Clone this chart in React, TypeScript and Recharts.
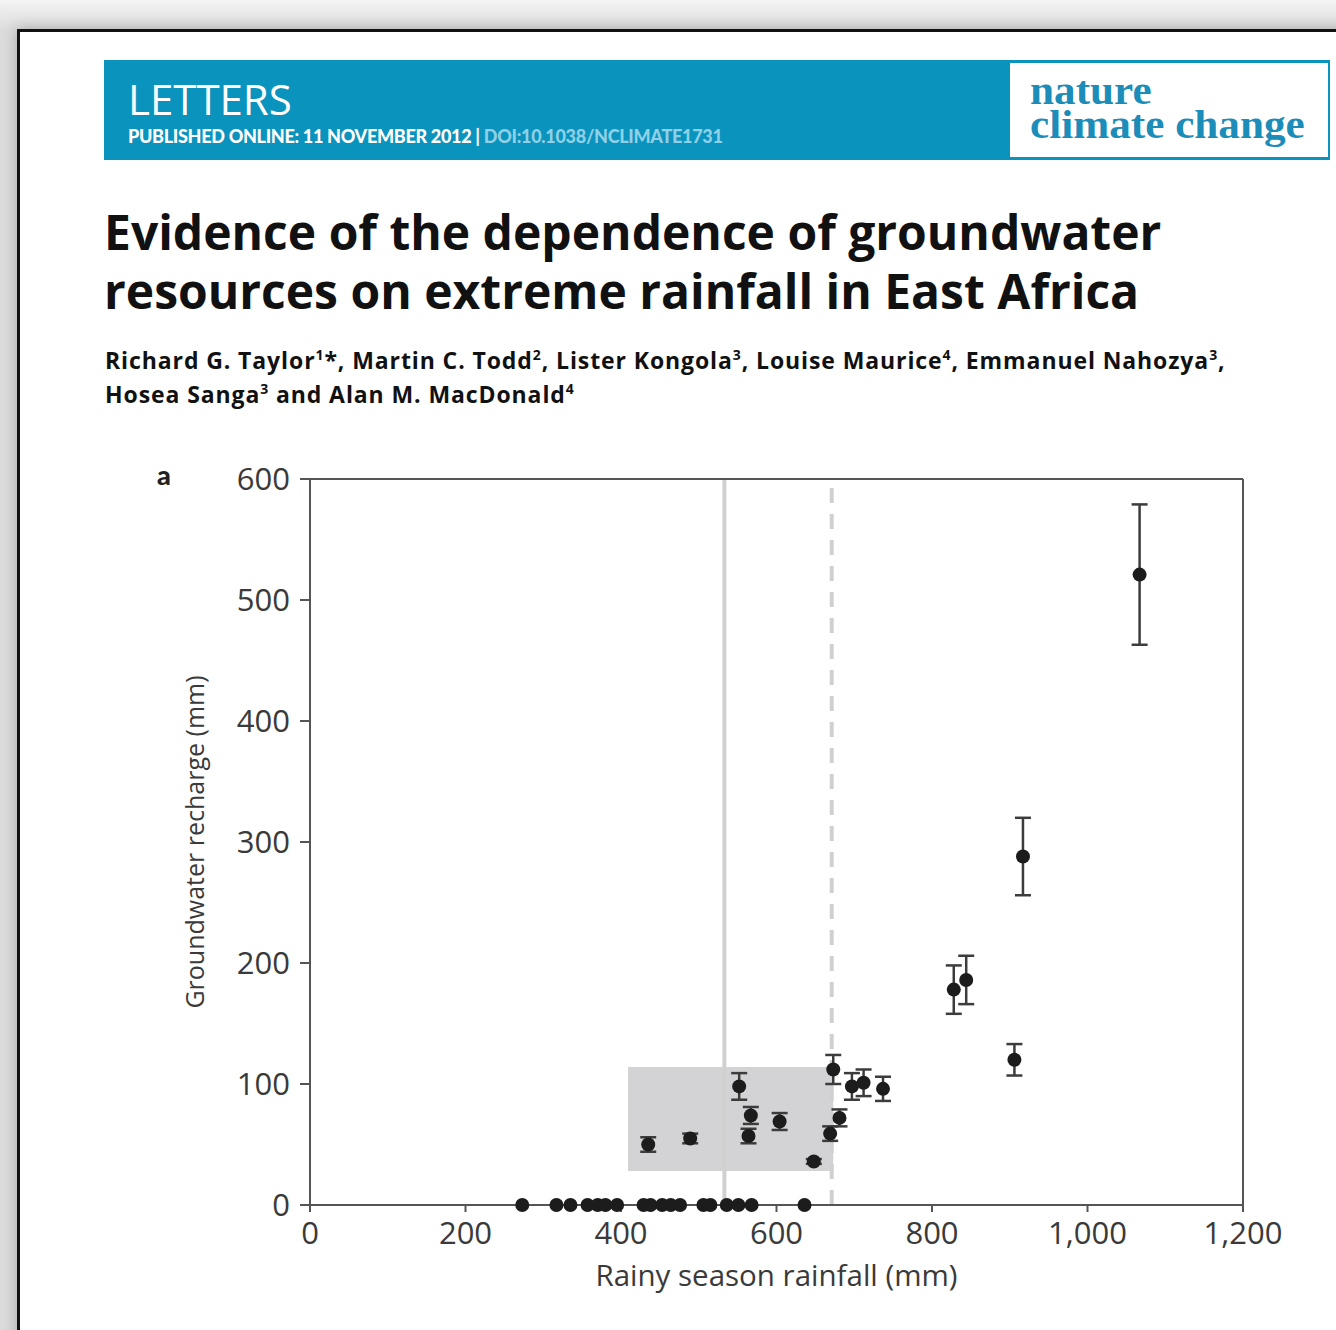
import React from 'react';
import {
  ScatterChart,
  Scatter,
  XAxis,
  YAxis,
  ErrorBar,
  ReferenceArea,
  ReferenceLine,
} from 'recharts';

// Rainy season rainfall (mm) for seasons with no recharge
const zeroRain = [273, 317, 335, 357, 370, 380, 395, 429, 438, 453, 464, 476, 506, 515, 536, 551, 568, 636];
// Seasons with recharge: rainfall (mm), recharge (mm), error (± mm)
const rechargeRain = [435, 489, 552, 567, 564, 604, 648, 673, 669, 681, 697, 712, 737, 828, 844, 906, 917, 1067];
const recharge = [50, 55, 98, 74, 57, 69, 36, 112, 59, 72, 98, 101, 96, 178, 186, 120, 288, 521];
const rechargeErr = [6, 4, 11, 7, 6, 7, 2, 12, 6, 7, 11, 11, 10, 20, 20, 13, 32, 58];

const xTicks = [0, 200, 400, 600, 800, 1000, 1200];
const yTicks = [0, 100, 200, 300, 400, 500, 600];

// shaded range + thresholds (mm)
const boxRain = [409, 673];
const boxRecharge = [28, 114];
const meanRain = 533;
const thresholdRain = 671;

const zeroData = zeroRain.map((rain) => ({ rain, recharge: 0 }));
const rechargeData = rechargeRain.map((rain, i) => ({
  rain,
  recharge: recharge[i],
  err: rechargeErr[i],
}));

const AXIS = '#555';
const TICK = { fill: '#3a3a3a', fontSize: 31, fontFamily: 'Open Sans' };
const SUP = { fontSize: 14, lineHeight: 0, verticalAlign: 'super' } as const;

const dot = (p: any) => <circle cx={p.cx} cy={p.cy} r={7} fill="#1c1c1c" />;

function Header() {
  const logoLine = {
    position: 'absolute',
    left: 20,
    lineHeight: '32px',
    transform: 'scaleX(1.08)',
    transformOrigin: 'left',
  } as const;
  return (
    <>
      <div
        style={{
          position: 'absolute',
          left: 104,
          top: 60,
          width: 1226,
          height: 100,
          background: '#0a93bd',
        }}
      >
        <div
          style={{
            position: 'absolute',
            left: 24,
            top: 14,
            color: '#fff',
            fontFamily: 'Open Sans',
            fontSize: 42,
            lineHeight: '50px',
          }}
        >
          LETTERS
        </div>
        <div
          style={{
            position: 'absolute',
            left: 24,
            top: 65,
            fontFamily: 'Lato',
            fontWeight: 900,
            fontSize: 18,
            letterSpacing: -0.3,
            color: '#fff',
            whiteSpace: 'nowrap',
          }}
        >
          PUBLISHED ONLINE: 11 NOVEMBER 2012 |{' '}
          <span style={{ color: '#8fd0e6' }}>DOI:10.1038/NCLIMATE1731</span>
        </div>
        <div
          style={{
            position: 'absolute',
            left: 906,
            top: 3,
            width: 318,
            height: 94,
            background: '#fff',
            fontFamily: 'Liberation Serif',
            fontWeight: 700,
            fontSize: 40,
            color: '#1b8db8',
            whiteSpace: 'nowrap',
          }}
        >
          <div style={{ ...logoLine, top: 12 }}>nature</div>
          <div style={{ ...logoLine, top: 46 }}>climate change</div>
        </div>
      </div>
      <div
        style={{
          position: 'absolute',
          left: 104,
          top: 202,
          fontFamily: 'Open Sans',
          fontWeight: 700,
          fontSize: 48,
          lineHeight: '59px',
          color: '#111',
          whiteSpace: 'nowrap',
        }}
      >
        Evidence of the dependence of groundwater
        <br />
        resources on extreme rainfall in East Africa
      </div>
      <div
        style={{
          position: 'absolute',
          left: 105,
          top: 343,
          fontFamily: 'Open Sans',
          fontWeight: 700,
          fontSize: 23,
          lineHeight: '34px',
          letterSpacing: 0.9,
          color: '#111',
          whiteSpace: 'nowrap',
        }}
      >
        Richard G. Taylor<sup style={SUP}>1</sup>*, Martin C. Todd<sup style={SUP}>2</sup>, Lister Kongola
        <sup style={SUP}>3</sup>, Louise Maurice<sup style={SUP}>4</sup>, Emmanuel Nahozya<sup style={SUP}>3</sup>,
        <br />
        Hosea Sanga<sup style={SUP}>3</sup> and Alan M. MacDonald<sup style={SUP}>4</sup>
      </div>
      <div
        style={{
          position: 'absolute',
          left: 157,
          top: 458,
          fontFamily: 'Lato',
          fontWeight: 900,
          fontSize: 27,
          color: '#222',
        }}
      >
        a
      </div>
    </>
  );
}

export default function App() {
  return (
    <div
      style={{
        position: 'absolute',
        left: 0,
        top: 0,
        width: 1336,
        height: 1330,
        overflow: 'hidden',
        background: 'linear-gradient(#f4f4f4, #dcdcdc 30px)',
      }}
    >
      <div
        style={{
          position: 'absolute',
          left: 17,
          top: 29,
          width: 1340,
          height: 1320,
          background: '#fff',
          borderLeft: '3px solid #111',
          borderTop: '3px solid #111',
          boxShadow: '0 0 14px rgba(0,0,0,0.25)',
        }}
      />
      <Header />
      <div style={{ position: 'absolute', left: 100, top: 440 }}>
        <ScatterChart width={1236} height={890} margin={{ top: 39, right: 93, left: 0, bottom: 0 }}>
          <XAxis
            type="number"
            dataKey="rain"
            domain={[0, 1200]}
            ticks={xTicks}
            tickFormatter={(v: number) => v.toLocaleString('en-US')}
            tickSize={7}
            tickMargin={10}
            height={125}
            stroke={AXIS}
            strokeWidth={2}
            tick={TICK}
            label={({ viewBox }: any) => (
              <text
                x={viewBox.x + viewBox.width / 2}
                y={viewBox.y + 69}
                textAnchor="middle"
                dominantBaseline="central"
                fill="#3a3a3a"
                fontSize={29.5}
                fontFamily="Open Sans"
              >
                Rainy season rainfall (mm)
              </text>
            )}
          />
          <YAxis
            type="number"
            dataKey="recharge"
            domain={[0, 600]}
            ticks={yTicks}
            tickSize={10}
            tickMargin={10}
            width={210}
            stroke={AXIS}
            strokeWidth={2}
            tick={TICK}
            label={({ viewBox }: any) => {
              const x = viewBox.x + 94;
              const y = viewBox.y + viewBox.height / 2;
              return (
                <text
                  x={x}
                  y={y}
                  transform={`rotate(-90 ${x} ${y})`}
                  textAnchor="middle"
                  dominantBaseline="central"
                  fill="#3a3a3a"
                  fontSize={25}
                  fontFamily="Open Sans"
                >
                  Groundwater recharge (mm)
                </text>
              );
            }}
          />
          <ReferenceArea
            x1={boxRain[0]}
            x2={boxRain[1]}
            y1={boxRecharge[0]}
            y2={boxRecharge[1]}
            fill="#d3d3d5"
            fillOpacity={1}
            stroke="none"
          />
          <ReferenceLine x={meanRain} stroke="#d0d0d0" strokeWidth={4} />
          <ReferenceLine x={thresholdRain} stroke="#d0d0d0" strokeWidth={4} strokeDasharray="15 11" />
          <ReferenceLine y={600} stroke={AXIS} strokeWidth={2} />
          <ReferenceLine x={1200} stroke={AXIS} strokeWidth={2} />
          <Scatter data={zeroData} shape={dot} isAnimationActive={false} />
          <Scatter data={rechargeData} shape={dot} isAnimationActive={false}>
            <ErrorBar dataKey="err" direction="y" width={8} stroke="#3c3c3c" strokeWidth={2.5} />
          </Scatter>
        </ScatterChart>
      </div>
    </div>
  );
}
